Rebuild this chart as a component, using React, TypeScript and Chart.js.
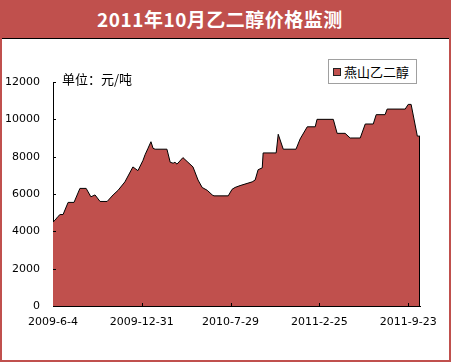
import React, { useEffect, useRef } from "react";
import { Chart, registerables } from "chart.js";

Chart.register(...registerables);

const TITLE = "2011年10月乙二醇价格监测";
const UNIT = "单位：元/吨";
const SERIES_NAME = "燕山乙二醇";
// x positions in weeks from 2009-6-4
const weeks = [
  0, 0.7, 1.7, 2.4, 3.4, 5.1, 7.1, 9.1, 11.2, 12.8, 14.2, 15.9, 18.3, 20.3, 22.0,
  24.3, 27.0, 28.7, 30.4, 31.1, 32.1, 33.1, 33.8, 34.5, 38.5, 39.6, 40.6, 41.2,
  41.9, 43.9, 45.6, 47.3, 49.0, 50.4, 52.1, 53.8, 54.4, 59.2, 60.5, 61.5, 63.2,
  67.3, 68.3, 69.3, 70.7, 71.0, 75.4, 76.1, 77.8, 82.1, 83.5, 85.9, 88.6, 89.2,
  94.7, 96.0, 98.7, 100.4, 103.8, 105.5, 108.2, 109.2, 112.2, 112.9, 119.0, 120.0,
  121.0, 123.1, 124.0,
];
const prices = [
  4500, 4600, 4800, 4900, 4900, 5550, 5550, 6300, 6300, 5850, 5950, 5600, 5600,
  5950, 6200, 6650, 7450, 7250, 7800, 8100, 8450, 8800, 8450, 8400, 8400, 7700,
  7650, 7700, 7600, 7950, 7700, 7450, 6750, 6350, 6200, 5950, 5900, 5900, 6250,
  6350, 6450, 6650, 6750, 7300, 7400, 8200, 8200, 9200, 8400, 8400, 8950, 9600,
  9600, 10000, 10000, 9250, 9250, 9000, 9000, 9750, 9750, 10250, 10250, 10550,
  10550, 10800, 10800, 9100, 9100,
];
const xTickWeeks = [0, 30, 60, 90, 120];
const xTickLabels = ["2009-6-4", "2009-12-31", "2010-7-29", "2011-2-25", "2011-9-23"];
const yMin = 0;
const yMax = 12000;
const yStep = 2000;

const RED = "#C0504D";

const innerTicks = {
  id: "innerTicks",
  afterDatasetsDraw(chart: any) {
    const { ctx, chartArea } = chart;
    ctx.save();
    const meta = chart.getDatasetMeta(0);
    const last = meta.data[meta.data.length - 1];
    if (last) {
      ctx.strokeStyle = "#000";
      ctx.lineWidth = 1;
      ctx.beginPath();
      const x = Math.round(last.x) - 0.5;
      ctx.moveTo(x, last.y);
      ctx.lineTo(x, chartArea.bottom);
      ctx.stroke();
    }
    ctx.restore();
  },
  afterDraw(chart: any) {
    const { ctx, chartArea, scales } = chart;
    ctx.save();
    ctx.strokeStyle = "#000";
    ctx.lineWidth = 1;
    ctx.beginPath();
    scales.y.ticks.forEach((t: any) => {
      const y = Math.round(scales.y.getPixelForValue(t.value)) + 0.5;
      ctx.moveTo(chartArea.left, y);
      ctx.lineTo(chartArea.left + 3, y);
    });
    scales.x.ticks.forEach((t: any) => {
      if (t.value === 0) return;
      const x = Math.round(scales.x.getPixelForValue(t.value)) + 0.5;
      ctx.moveTo(x, chartArea.bottom);
      ctx.lineTo(x, chartArea.bottom - 3);
    });
    ctx.stroke();
    ctx.restore();
  },
};

export default function App() {
  const ref = useRef<HTMLCanvasElement>(null);
  useEffect(() => {
    document.body.style.margin = "0";
    const chart = new Chart(ref.current!, {
      type: "line",
      data: {
        datasets: [
          {
            label: SERIES_NAME,
            data: weeks.map((w, i) => ({ x: w, y: prices[i] })),
            fill: "origin",
            backgroundColor: RED,
            borderColor: "#000",
            borderWidth: 1,
            pointRadius: 0,
            tension: 0,
          },
        ],
      },
      options: {
        animation: false,
        responsive: false,
        layout: { padding: { top: 43, right: 29, left: 0, bottom: 0 } },
        plugins: { legend: { display: false }, tooltip: { enabled: false } },
        scales: {
          x: {
            type: "linear",
            min: 0,
            max: 124,
            afterBuildTicks: (s: any) => {
              s.ticks = xTickWeeks.map((v) => ({ value: v }));
            },
            afterFit: (s: any) => {
              s.height = 54;
            },
            grid: { display: false, drawTicks: false },
            border: { display: true, color: "#000", width: 1 },
            ticks: {
              autoSkip: false,
              maxRotation: 0,
              color: "#000",
              padding: 10,
              font: { family: "DejaVu Sans", size: 11 },
              callback: (v: any) => {
                const i = xTickWeeks.indexOf(Number(v));
                return i >= 0 ? xTickLabels[i] : "";
              },
            },
          },
          y: {
            min: yMin,
            max: yMax,
            afterFit: (s: any) => {
              s.width = 51;
            },
            grid: { display: false, drawTicks: false },
            border: { display: true, color: "#000", width: 1 },
            ticks: {
              stepSize: yStep,
              color: "#000",
              padding: 13,
              font: { family: "DejaVu Sans", size: 11 },
              callback: (v: any) => String(v),
            },
          },
        },
      },
      plugins: [innerTicks],
    });
    return () => chart.destroy();
  }, []);

  return (
    <div
      style={{
        position: "absolute",
        left: 0,
        top: 0,
        width: 451,
        height: 362,
        background: RED,
        overflow: "hidden",
      }}
    >
      <div
        style={{
          position: "absolute",
          left: 0,
          top: 0,
          width: 440,
          height: 38,
          lineHeight: "38px",
          textAlign: "center",
          color: "#fff",
          fontFamily: "'Noto Sans CJK SC', sans-serif",
          fontWeight: "bold",
          fontSize: 19,
          letterSpacing: 0.5,
        }}
      >
        {TITLE}
      </div>
      <div
        style={{
          position: "absolute",
          left: 2,
          top: 38,
          width: 447,
          height: 322,
          background: "#fff",
          boxSizing: "border-box",
          borderTop: "1px solid #000",
        }}
      >
        <canvas
          ref={ref}
          width={447}
          height={321}
          style={{ position: "absolute", left: 0, top: 0, width: 447, height: 321 }}
        />
        <div
          style={{
            position: "absolute",
            left: 60,
            top: 31,
            fontFamily: "'Noto Sans CJK SC', sans-serif",
            fontSize: 13,
            lineHeight: "18px",
            color: "#000",
            whiteSpace: "nowrap",
          }}
        >
          {UNIT}
        </div>
        <div
          style={{
            position: "absolute",
            left: 326,
            top: 20,
            width: 89,
            height: 25,
            boxSizing: "border-box",
            border: "1px solid #A0A0A0",
            background: "#fff",
            display: "flex",
            alignItems: "center",
            paddingLeft: 4,
            fontFamily: "'Noto Sans CJK SC', sans-serif",
            fontSize: 13,
            color: "#000",
            whiteSpace: "nowrap",
          }}
        >
          <span
            style={{
              display: "inline-block",
              width: 8,
              height: 8,
              boxSizing: "border-box",
              background: RED,
              border: "1px solid #222",
              marginRight: 3,
            }}
          />
          {SERIES_NAME}
        </div>
      </div>
    </div>
  );
}
